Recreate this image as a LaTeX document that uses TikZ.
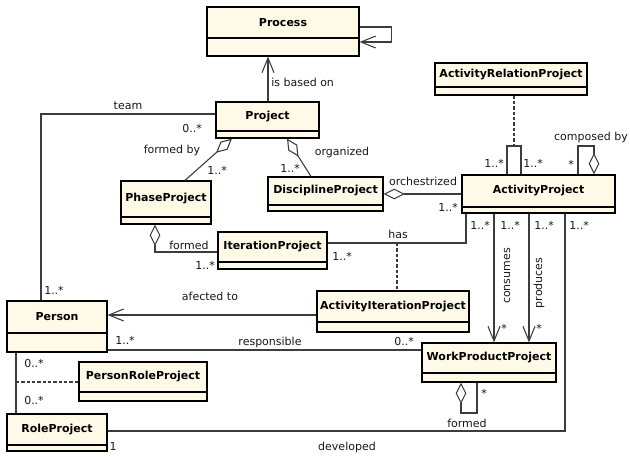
\documentclass[tikz,border=0pt]{standalone}
\usepackage{fontspec}
\setmainfont{DejaVu Sans}
\usetikzlibrary{arrows.meta,fit}
\definecolor{classfill}{RGB}{255,250,232}
\definecolor{linecol}{RGB}{60,60,60}
\tikzset{
  classbox/.style={draw=black, line width=0.9pt, fill=classfill, inner sep=0pt},
  classsep/.style={draw=black, line width=0.9pt},
  classname/.style={font=\fontsize{8.25}{10}\selectfont\bfseries, inner sep=0pt},
  lbl/.style={font=\fontsize{8.25}{10}\selectfont, inner sep=0pt, text=black!90},
  assoc/.style={draw=linecol, line width=0.8pt},
  navarrow/.style={assoc, -{Straight Barb[length=11pt,width=9pt]}},
  aggr/.style={assoc, line join=miter, -{Diamond[length=16pt,width=8pt,fill=white]}},
  dashedline/.style={draw=linecol, line width=0.8pt, dash pattern=on 2.5pt off 1.5pt},
}
\newcommand{\umlclass}[7]{%
  \node[classbox, fit={(#2,#3) (#4,#6)}] (#1) {};
  \draw[classsep] (#2,#5) -- (#4,#5);
  \node[classname] (#1-name) at ({(#2+#4)/2},{(#3+#5)/2}) {#7};
}
\begin{document}
\begin{tikzpicture}[x=0.75pt,y=-0.75pt]
\useasboundingbox[fill=white] (0,0) rectangle (630,456);

% classes
\umlclass{process}{207}{7}{359}{38}{56}{Process}
\umlclass{project}{216}{102}{319}{131}{138}{Project}
\umlclass{phase}{121}{181}{211}{217}{224}{PhaseProject}
\umlclass{iteration}{218}{232}{327}{262}{269}{IterationProject}
\umlclass{discipline}{268}{177}{383}{205}{211}{DisciplineProject}
\umlclass{activity}{462}{175}{615}{207}{213}{ActivityProject}
\umlclass{arp}{435}{63}{587}{87}{95}{ActivityRelationProject}
\umlclass{aip}{317}{291}{469}{322}{332}{ActivityIterationProject}
\umlclass{person}{7}{301}{107}{333}{352}{Person}
\umlclass{wpp}{422}{343}{556}{373}{382}{WorkProductProject}
\umlclass{prp}{79}{362}{207}{392}{401}{PersonRoleProject}
\umlclass{role}{7}{414}{107}{445}{451}{RoleProject}

% helper coordinates for bends
\coordinate (arloopM) at (514,146);
\coordinate (arloopR) at (521,146);
\coordinate (cbR) at (594,146);
\coordinate (hasM) at (397,243);
\coordinate (prpM) at (16,382);
\coordinate (wppLoop) at (461,413);

% connectors
\draw[navarrow] (process.east |- 0,27) -- ++(32,0) |- (process.east |- 0,42);
\draw[navarrow] (project.north -| 268,0) -- (process.south -| 268,0);
\draw[assoc] (project.west |- 0,114) -| (person.north -| 41,0);
\draw[aggr] (phase.north -| 185,0) -- (project.south -| 232,0);
\draw[aggr] (discipline.north -| 311,0) -- (project.south -| 287,0);
\draw[aggr] (iteration.west |- 0,252) -| (phase.south -| 155,0);
\draw[aggr] (activity.west |- 0,194) -- (discipline.east |- 0,194);
\draw[assoc] (activity.north -| 507,0) |- (arloopR) -- (activity.north -| 521,0);
\draw[dashedline] (arp.south -| 514,0) -- (arloopM);
\draw[aggr] (activity.north -| 578,0) |- (cbR) -- (activity.north -| 594,0);
\draw[assoc] (iteration.east |- 0,243) -| (activity.south -| 466,0);
\draw[dashedline] (hasM) -- (aip.north -| 397,0);
\draw[navarrow] (activity.south -| 494,0) -- (wpp.north -| 494,0);
\draw[navarrow] (activity.south -| 529,0) -- (wpp.north -| 529,0);
\draw[assoc] (role.east |- 0,431) -| (activity.south -| 565,0);
\draw[navarrow] (aip.west |- 0,315) -- (person.east |- 0,315);
\draw[assoc] (person.east |- 0,350) -- (wpp.west |- 0,350);
\draw[assoc] (person.south -| 16,0) -- (role.north -| 16,0);
\draw[dashedline] (prpM) -- (prp.west |- 0,382);
\draw[aggr] (wpp.south -| 477,0) |- (wppLoop) -- (wpp.south -| 461,0);

% labels
\node[lbl, anchor=west] (l-based) at (271,82) {is based on};
\node[lbl] (l-team) at (128,106) {team};
\node[lbl] (l-m1) at (192,128) {0..*};
\node[lbl] (l-formedby) at (172,150) {formed by};
\node[lbl] (l-m2) at (217,170) {1..*};
\node[lbl] (l-organized) at (342,152) {organized};
\node[lbl] (l-m3) at (290,168) {1..*};
\node[lbl] (l-orch) at (423,181) {orchestrized};
\node[lbl] (l-m4) at (448,207) {1..*};
\node[lbl] (l-m5) at (494,163) {1..*};
\node[lbl] (l-m6) at (533,163) {1..*};
\node[lbl] (l-m7) at (571,164) {*};
\node[lbl] (l-composed) at (591,137) {composed by};
\node[lbl] (l-m8) at (480,225) {1..*};
\node[lbl] (l-m9) at (510,225) {1..*};
\node[lbl] (l-m10) at (544,225) {1..*};
\node[lbl] (l-m11) at (579,225) {1..*};
\node[lbl] (l-has) at (398,234) {has};
\node[lbl] (l-m12) at (342,256) {1..*};
\node[lbl, rotate=90] (l-consumes) at (507,276) {consumes};
\node[lbl, rotate=90] (l-produces) at (539,283) {produces};
\node[lbl] (l-m13) at (504,328) {*};
\node[lbl] (l-m14) at (539,328) {*};
\node[lbl] (l-afected) at (210,296) {afected to};
\node[lbl] (l-m15) at (54,290) {1..*};
\node[lbl] (l-formed1) at (189,245) {formed};
\node[lbl] (l-m16) at (205,265) {1..*};
\node[lbl] (l-m17) at (125,340) {1..*};
\node[lbl] (l-resp) at (270,342) {responsible};
\node[lbl] (l-m18) at (404,341) {0..*};
\node[lbl] (l-m19) at (34,363) {0..*};
\node[lbl] (l-m20) at (34,400) {0..*};
\node[lbl] (l-m21) at (113,446) {1};
\node[lbl] (l-developed) at (347,447) {developed};
\node[lbl] (l-formed2) at (467,423) {formed};
\node[lbl] (l-m22) at (484,393) {*};
\end{tikzpicture}
\end{document}
